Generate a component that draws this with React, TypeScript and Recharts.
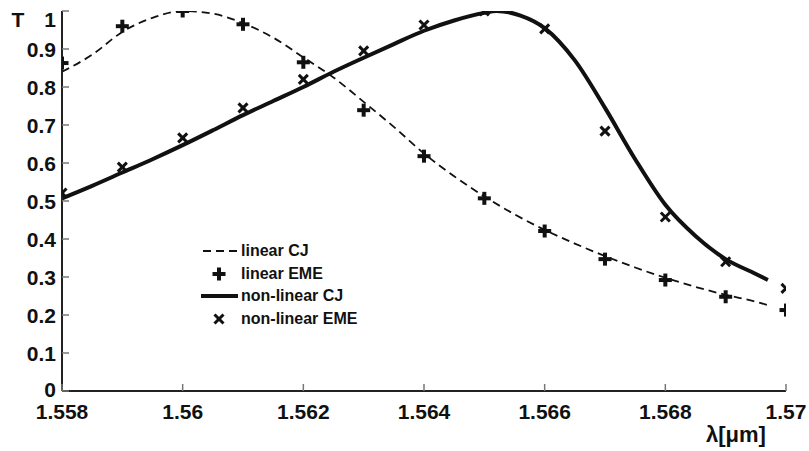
import React from "react"
import { ComposedChart, Line, Scatter, XAxis, YAxis, Legend } from "recharts"

const FONT = '"Liberation Sans", Arial, sans-serif'
const INK = "#111"

const X_TICKS = [1.558, 1.56, 1.562, 1.564, 1.566, 1.568, 1.57]
const Y_TICKS = [0, 0.1, 0.2, 0.3, 0.4, 0.5, 0.6, 0.7, 0.8, 0.9, 1]

// coupled-mode curves
const LINEAR_CJ_WL = [
  1.558, 1.5585, 1.559, 1.5595, 1.56, 1.5605, 1.561, 1.5615, 1.562, 1.5625, 1.563, 1.5635, 1.564,
  1.5645, 1.565, 1.5655, 1.566, 1.5665, 1.567, 1.5675, 1.568, 1.5685, 1.569, 1.5695, 1.5697,
]
const LINEAR_CJ = [
  0.84, 0.885, 0.945, 0.982, 1.0, 0.993, 0.968, 0.93, 0.878, 0.825, 0.761, 0.695, 0.625,
  0.565, 0.512, 0.465, 0.424, 0.388, 0.355, 0.325, 0.298, 0.274, 0.253, 0.235, 0.226,
]
const NONLINEAR_CJ_WL = [
  1.558, 1.5585, 1.559, 1.5595, 1.56, 1.5605, 1.561, 1.5615, 1.562, 1.5625, 1.563, 1.5635, 1.564,
  1.5645, 1.565, 1.5652, 1.5656, 1.566, 1.5665, 1.567, 1.5675, 1.568, 1.5685, 1.569, 1.5695, 1.5697,
]
const NONLINEAR_CJ = [
  0.507, 0.54, 0.575, 0.61, 0.647, 0.686, 0.726, 0.763, 0.8, 0.84, 0.877, 0.913, 0.948,
  0.975, 0.995, 1.0, 0.988, 0.955, 0.87, 0.745, 0.61, 0.49, 0.408, 0.347, 0.308, 0.292,
]

// EME points
const EME_WL = [1.558, 1.559, 1.56, 1.561, 1.562, 1.563, 1.564, 1.565, 1.566, 1.567, 1.568, 1.569, 1.57]
const LINEAR_EME = [0.863, 0.96, 1.0, 0.965, 0.865, 0.739, 0.618, 0.507, 0.421, 0.347, 0.292, 0.248, 0.213]
const NONLINEAR_EME = [0.521, 0.589, 0.666, 0.745, 0.82, 0.895, 0.963, 1.0, 0.953, 0.684, 0.458, 0.34, 0.27]

const toPoints = (xs: number[], ys: number[]) => xs.map((x, i) => ({ x, y: ys[i] }))

const linearCj = toPoints(LINEAR_CJ_WL, LINEAR_CJ)
const nonlinearCj = toPoints(NONLINEAR_CJ_WL, NONLINEAR_CJ)
const linearEme = toPoints(EME_WL, LINEAR_EME)
const nonlinearEme = toPoints(EME_WL, NONLINEAR_EME)

function PlusMark({ cx, cy }: any) {
  if (cx == null || cy == null) return null
  return (
    <g fill={INK}>
      <rect x={cx - 6.5} y={cy - 2} width={13} height={4} />
      <rect x={cx - 2} y={cy - 6.5} width={4} height={13} />
    </g>
  )
}

function CrossMark({ cx, cy }: any) {
  if (cx == null || cy == null) return null
  const s = 4.5
  return (
    <g stroke={INK} strokeWidth={3}>
      <line x1={cx - s} y1={cy - s} x2={cx + s} y2={cy + s} />
      <line x1={cx - s} y1={cy + s} x2={cx + s} y2={cy - s} />
    </g>
  )
}

const TICK_COLOR = "#777"
const TICK_LEN = 7

function BottomTick({ x, y, payload }: any) {
  return (
    <g>
      <line x1={x} y1={y} x2={x} y2={y - TICK_LEN} stroke={TICK_COLOR} strokeWidth={1.5} />
      <text x={x} y={y + 28} textAnchor="middle" fontFamily={FONT} fontWeight="bold" fontSize={21} fill={INK}>
        {String(payload.value)}
      </text>
    </g>
  )
}

function TopTick({ x, y }: any) {
  return <line x1={x} y1={y} x2={x} y2={y + TICK_LEN} stroke={TICK_COLOR} strokeWidth={1.5} />
}

function LeftTick({ x, y, payload }: any) {
  const dy = payload.value === 1 ? 16 : payload.value === 0 ? 5.5 : 7.5
  return (
    <g>
      <line x1={x} y1={y} x2={x + TICK_LEN} y2={y} stroke={TICK_COLOR} strokeWidth={1.5} />
      <text x={x - 6} y={y + dy} textAnchor="end" fontFamily={FONT} fontWeight="bold" fontSize={21} fill={INK}>
        {String(payload.value)}
      </text>
    </g>
  )
}

function RightTick({ x, y }: any) {
  return <line x1={x} y1={y} x2={x - TICK_LEN} y2={y} stroke={TICK_COLOR} strokeWidth={1.5} />
}

const LEGEND_ROWS = [
  { name: "linear CJ", kind: "dash" },
  { name: "linear EME", kind: "plus" },
  { name: "non-linear CJ", kind: "solid" },
  { name: "non-linear EME", kind: "cross" },
]

function LegendContent() {
  return (
    <div style={{ fontFamily: FONT, fontWeight: "bold", fontSize: 16, color: INK }}>
      {LEGEND_ROWS.map((r) => (
        <div key={r.name} style={{ display: "flex", alignItems: "center", height: 22.5 }}>
          <svg width={40} height={22} style={{ display: "block" }}>
            {r.kind === "dash" && (
              <line x1={3} y1={11} x2={38} y2={11} stroke={INK} strokeWidth={1.8} strokeDasharray="8 5" />
            )}
            {r.kind === "solid" && <line x1={1} y1={11} x2={38} y2={11} stroke={INK} strokeWidth={4} />}
            {r.kind === "plus" && <PlusMark cx={19} cy={11} />}
            {r.kind === "cross" && <CrossMark cx={19} cy={11} />}
          </svg>
          <span style={{ marginLeft: 1, whiteSpace: "nowrap" }}>{r.name}</span>
        </div>
      ))}
    </div>
  )
}

export default function App() {
  return (
    <div style={{ position: "absolute", left: 0, top: 0, background: "#fff" }}>
      <ComposedChart width={809} height={451} margin={{ top: 11, right: 23, left: 0, bottom: 0 }}>
        <XAxis
          xAxisId="b"
          dataKey="x"
          type="number"
          domain={[1.558, 1.57]}
          ticks={X_TICKS}
          allowDataOverflow
          height={60}
          tickSize={0}
          tickMargin={0}
          tickLine={false}
          axisLine={{ stroke: "#222", strokeWidth: 2 }}
          tick={BottomTick}
          interval={0}
          label={{
            content: () => (
              <text x={736} y={442} textAnchor="middle" fontFamily={FONT} fontWeight="bold" fontSize={22} fill={INK}>
                λ[μm]
              </text>
            ),
          }}
        />
        <XAxis
          xAxisId="t"
          orientation="top"
          type="number"
          domain={[1.558, 1.57]}
          ticks={X_TICKS}
          allowDataOverflow
          height={0}
          tickSize={0}
          tickMargin={0}
          tickLine={false}
          axisLine={{ stroke: "#222", strokeWidth: 1.5 }}
          tick={TopTick}
          interval={0}
        />
        <YAxis
          yAxisId="l"
          dataKey="y"
          type="number"
          domain={[0, 1]}
          ticks={Y_TICKS}
          allowDataOverflow
          width={62}
          tickSize={0}
          tickMargin={0}
          tickLine={false}
          axisLine={{ stroke: "#222", strokeWidth: 2 }}
          tick={LeftTick}
          interval={0}
          label={{
            content: () => (
              <text x={18} y={27} textAnchor="middle" fontFamily={FONT} fontWeight="bold" fontSize={21} fill={INK}>
                T
              </text>
            ),
          }}
        />
        <YAxis
          yAxisId="r"
          orientation="right"
          type="number"
          domain={[0, 1]}
          ticks={Y_TICKS}
          allowDataOverflow
          width={0}
          tickSize={0}
          tickMargin={0}
          tickLine={false}
          axisLine={{ stroke: "#555", strokeWidth: 2 }}
          tick={RightTick}
          interval={0}
        />
        <Legend
          layout="vertical"
          align="center"
          verticalAlign="middle"
          wrapperStyle={{ left: 200, top: 240, width: 240 }}
          content={LegendContent}
        />
        <Line
          xAxisId="b"
          yAxisId="l"
          data={linearCj}
          dataKey="y"
          name="linear CJ"
          type="monotone"
          stroke={INK}
          strokeWidth={1.8}
          strokeDasharray="8 5"
          dot={false}
          activeDot={false}
          isAnimationActive={false}
        />
        <Line
          xAxisId="b"
          yAxisId="l"
          data={nonlinearCj}
          dataKey="y"
          name="non-linear CJ"
          type="monotone"
          stroke={INK}
          strokeWidth={4}
          dot={false}
          activeDot={false}
          isAnimationActive={false}
        />
        <Scatter
          xAxisId="b"
          yAxisId="l"
          data={linearEme}
          dataKey="y"
          name="linear EME"
          shape={PlusMark}
          isAnimationActive={false}
        />
        <Scatter
          xAxisId="b"
          yAxisId="l"
          data={nonlinearEme}
          dataKey="y"
          name="non-linear EME"
          shape={CrossMark}
          isAnimationActive={false}
        />
      </ComposedChart>
    </div>
  )
}
